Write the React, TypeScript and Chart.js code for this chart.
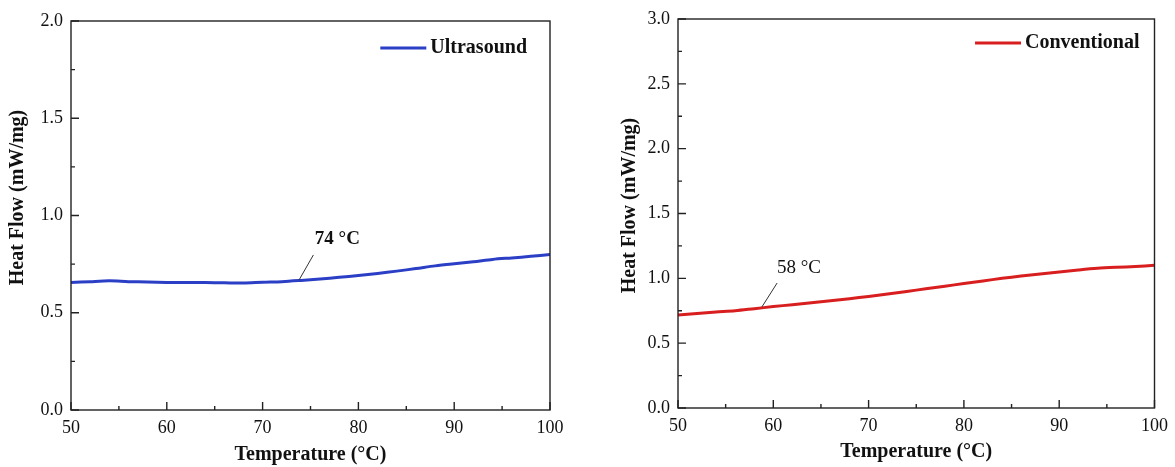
import React, { useEffect, useRef } from "react";
import { Chart, registerables } from "chart.js";

Chart.register(...registerables);

// ---- data ----
const temperatures = [50, 52, 54, 56, 58, 60, 62, 64, 66, 68, 70, 72, 74, 76, 78, 80, 82, 84, 86, 88, 90, 92, 94, 96, 98, 100];
const ultrasound = [0.655, 0.66, 0.664, 0.66, 0.658, 0.656, 0.656, 0.655, 0.654, 0.653, 0.657, 0.66, 0.666, 0.673, 0.682, 0.692, 0.702, 0.714, 0.727, 0.741, 0.752, 0.762, 0.774, 0.782, 0.79, 0.8];
const conventional = [0.717, 0.729, 0.74, 0.75, 0.766, 0.782, 0.797, 0.812, 0.827, 0.843, 0.86, 0.879, 0.899, 0.919, 0.939, 0.96, 0.98, 1.0, 1.018, 1.034, 1.049, 1.064, 1.077, 1.085, 1.091, 1.1];

const xTickValues = [50, 60, 70, 80, 90, 100];
const ultrasoundYTicks = [0, 0.5, 1.0, 1.5, 2.0];
const conventionalYTicks = [0, 0.5, 1.0, 1.5, 2.0, 2.5, 3.0];

const xTitle = "Temperature (°C)";
const yTitle = "Heat Flow (mW/mg)";

// annotation: [T, value] of leader line ends and label
const ultrasoundNoteText = "74 °C";
const ultrasoundNoteLine = [73.8, 0.668, 75.3, 0.797];
const ultrasoundNoteLabel = [77.8, 0.879];
const conventionalNoteText = "58 °C";
const conventionalNoteLine = [58.8, 0.779, 60.4, 0.964];
const conventionalNoteLabel = [62.7, 1.079];

const SERIF = "'Liberation Serif', 'Times New Roman', serif";

const decorPlugin = {
  id: "decor",
  afterDatasetsDraw(chart: any, _args: any, opts: any) {
    const { ctx, chartArea: a, scales } = chart;
    const x = scales.x;
    const y = scales.y;
    ctx.save();
    // frame
    ctx.strokeStyle = "#222";
    ctx.lineWidth = 1.4;
    ctx.strokeRect(a.left, a.top, a.right - a.left, a.bottom - a.top);
    // inward ticks
    const major = 8;
    const minor = 4;
    const xt = x.ticks.map((t: any) => t.value);
    ctx.beginPath();
    xt.forEach((v: number, i: number) => {
      const px = x.getPixelForValue(v);
      ctx.moveTo(px, a.bottom);
      ctx.lineTo(px, a.bottom - major);
      if (i < xt.length - 1) {
        const m = x.getPixelForValue((v + xt[i + 1]) / 2);
        ctx.moveTo(m, a.bottom);
        ctx.lineTo(m, a.bottom - minor);
      }
    });
    const yt = y.ticks.map((t: any) => t.value);
    yt.forEach((v: number, i: number) => {
      const py = y.getPixelForValue(v);
      ctx.moveTo(a.left, py);
      ctx.lineTo(a.left + major, py);
      if (i < yt.length - 1) {
        const m = y.getPixelForValue((v + yt[i + 1]) / 2);
        ctx.moveTo(a.left, m);
        ctx.lineTo(a.left + minor, m);
      }
    });
    ctx.stroke();

    // y-axis title
    ctx.save();
    ctx.translate(opts.yTitleX, (a.top + a.bottom) / 2 + opts.yTitleShift);
    ctx.rotate(-Math.PI / 2);
    ctx.font = `bold 20px ${SERIF}`;
    ctx.fillStyle = "#111";
    ctx.textAlign = "center";
    ctx.textBaseline = "middle";
    ctx.fillText(yTitle, 0, 0);
    ctx.restore();

    // legend
    const ds = chart.data.datasets[0];
    ctx.font = `bold 20px ${SERIF}`;
    ctx.fillStyle = "#111";
    ctx.textBaseline = "middle";
    ctx.textAlign = "right";
    const textRight = a.right - opts.legendRight;
    const ly = a.top + opts.legendTop;
    ctx.fillText(ds.label, textRight, ly);
    const tw = ctx.measureText(ds.label).width;
    const lineEnd = textRight - tw - 4;
    ctx.strokeStyle = ds.borderColor;
    ctx.lineWidth = 3;
    ctx.beginPath();
    ctx.moveTo(lineEnd - 46, ly);
    ctx.lineTo(lineEnd, ly);
    ctx.stroke();

    // annotation
    const [x1, y1, x2, y2] = opts.noteLine;
    ctx.strokeStyle = "#333";
    ctx.lineWidth = 1;
    ctx.beginPath();
    ctx.moveTo(x.getPixelForValue(x1), y.getPixelForValue(y1));
    ctx.lineTo(x.getPixelForValue(x2), y.getPixelForValue(y2));
    ctx.stroke();
    ctx.font = `${opts.noteBold ? "bold " : ""}19px ${SERIF}`;
    ctx.fillStyle = "#111";
    ctx.textAlign = "center";
    ctx.fillText(opts.noteText, x.getPixelForValue(opts.noteLabel[0]), y.getPixelForValue(opts.noteLabel[1]));
    ctx.restore();
  },
};

type PanelProps = {
  left: number;
  width: number;
  label: string;
  values: number[];
  color: string;
  yTicks: number[];
  area: { left: number; top: number; right: number; bottom: number };
  yTitleX: number;
  yTitleShift: number;
  xTitlePad: number;
  legendRight: number;
  legendTop: number;
  noteText: string;
  noteLine: number[];
  noteLabel: number[];
  noteBold: boolean;
};

function Panel(p: PanelProps) {
  const ref = useRef<HTMLCanvasElement | null>(null);
  const H = 467;
  useEffect(() => {
    if (!ref.current) return;
    const yMax = p.yTicks[p.yTicks.length - 1];
    const chart = new Chart(ref.current, {
      type: "line",
      data: {
        datasets: [
          {
            label: p.label,
            data: temperatures.map((t, i) => ({ x: t, y: p.values[i] })),
            borderColor: p.color,
            borderWidth: 3,
            pointRadius: 0,
            tension: 0.3,
            fill: false,
          },
        ],
      },
      options: {
        animation: false,
        responsive: false,
        events: [],
        layout: {
          padding: { left: 0, top: p.area.top, right: p.width - p.area.right, bottom: 0 },
        },
        plugins: {
          legend: { display: false },
          tooltip: { enabled: false },
          decor: {
            yTitleX: p.yTitleX,
            yTitleShift: p.yTitleShift,
            legendRight: p.legendRight,
            legendTop: p.legendTop,
            noteText: p.noteText,
            noteLine: p.noteLine,
            noteLabel: p.noteLabel,
            noteBold: p.noteBold,
          },
        } as any,
        scales: {
          x: {
            type: "linear",
            min: xTickValues[0],
            max: xTickValues[xTickValues.length - 1],
            afterBuildTicks: (s: any) => {
              s.ticks = xTickValues.map((v) => ({ value: v }));
            },
            afterFit: (s: any) => {
              s.height = H - p.area.bottom;
            },
            grid: { display: false, drawTicks: false },
            border: { display: false },
            ticks: {
              padding: 7,
              color: "#111",
              font: { family: SERIF, size: 18 },
              maxRotation: 0,
              callback: (v: any) => String(v),
            },
            title: {
              display: true,
              text: xTitle,
              color: "#111",
              font: { family: SERIF, size: 20, weight: "bold" },
              padding: { top: 0, bottom: p.xTitlePad },
            },
          },
          y: {
            type: "linear",
            min: 0,
            max: yMax,
            afterBuildTicks: (s: any) => {
              s.ticks = p.yTicks.map((v) => ({ value: v }));
            },
            afterFit: (s: any) => {
              s.width = p.area.left;
            },
            grid: { display: false, drawTicks: false },
            border: { display: false },
            ticks: {
              padding: 8,
              color: "#111",
              font: { family: SERIF, size: 18 },
              callback: (v: any) => Number(v).toFixed(1),
            },
            title: { display: false },
          },
        },
      } as any,
      plugins: [decorPlugin as any],
    });
    return () => chart.destroy();
  }, []);
  return (
    <div style={{ position: "absolute", left: p.left, top: 0, width: p.width, height: H }}>
      <canvas ref={ref} width={p.width} height={H} style={{ width: p.width, height: H, display: "block" }} />
    </div>
  );
}

export default function App() {
  return (
    <div style={{ position: "fixed", left: 0, top: 0, width: 1175, height: 467, background: "#fff", overflow: "hidden" }}>
      <Panel
        left={0}
        width={580}
        label="Ultrasound"
        values={ultrasound}
        color="#2b3fc6"
        yTicks={ultrasoundYTicks}
        area={{ left: 71, top: 21, right: 550, bottom: 410 }}
        yTitleX={18}
        yTitleShift={-18}
        xTitlePad={0}
        legendRight={23}
        legendTop={27}
        noteText={ultrasoundNoteText}
        noteLine={ultrasoundNoteLine}
        noteLabel={ultrasoundNoteLabel}
        noteBold={true}
      />
      <Panel
        left={590}
        width={585}
        label="Conventional"
        values={conventional}
        color="#d81e1e"
        yTicks={conventionalYTicks}
        area={{ left: 88, top: 19, right: 567, bottom: 408 }}
        yTitleX={40}
        yTitleShift={-8}
        xTitlePad={3}
        legendRight={15}
        legendTop={24}
        noteText={conventionalNoteText}
        noteLine={conventionalNoteLine}
        noteLabel={conventionalNoteLabel}
        noteBold={false}
      />
    </div>
  );
}
